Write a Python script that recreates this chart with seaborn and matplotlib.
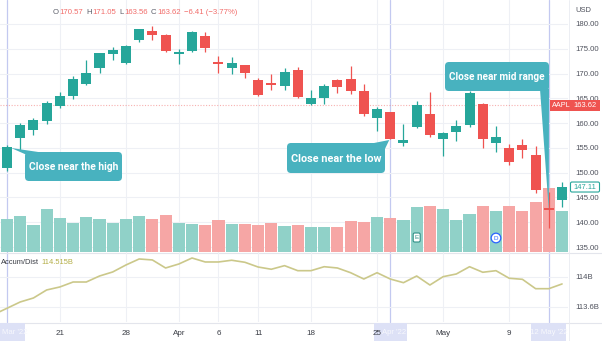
import numpy as np
import pandas as pd
import matplotlib
matplotlib.use("Agg")
import matplotlib.pyplot as plt
from matplotlib import font_manager
from matplotlib.patches import FancyBboxPatch, Polygon, Circle, Rectangle
import seaborn as sns

# ---------------- data (AAPL daily) ----------------
dates = ["2022-03-14", "2022-03-15", "2022-03-16", "2022-03-17", "2022-03-18",
         "2022-03-21", "2022-03-22", "2022-03-23", "2022-03-24", "2022-03-25",
         "2022-03-28", "2022-03-29", "2022-03-30", "2022-03-31", "2022-04-01",
         "2022-04-04", "2022-04-05", "2022-04-06", "2022-04-07", "2022-04-08",
         "2022-04-11", "2022-04-12", "2022-04-13", "2022-04-14", "2022-04-18",
         "2022-04-19", "2022-04-20", "2022-04-21", "2022-04-22", "2022-04-25",
         "2022-04-26", "2022-04-27", "2022-04-28", "2022-04-29", "2022-05-02",
         "2022-05-03", "2022-05-04", "2022-05-05", "2022-05-06", "2022-05-09",
         "2022-05-10", "2022-05-11", "2022-05-12", "2022-05-13"]
open_ = [151.45, 150.90, 157.05, 158.61, 160.51, 163.51, 165.51, 167.99, 171.06, 173.88,
         172.17, 176.69, 178.55, 177.84, 174.03, 174.57, 177.50, 172.36, 171.16, 171.78,
         168.71, 168.02, 167.39, 170.62, 163.92, 165.02, 168.76, 168.91, 166.46, 161.12,
         162.25, 155.91, 159.25, 161.84, 156.71, 158.15, 159.67, 163.85, 156.01, 154.93,
         155.52, 153.50, 142.77, 144.59]
high = [154.12, 155.57, 160.00, 161.00, 164.48, 166.35, 169.42, 172.64, 174.14, 175.28,
        175.73, 179.01, 179.61, 178.03, 174.88, 178.49, 178.30, 173.63, 173.36, 171.78,
        169.03, 169.87, 171.04, 171.27, 166.60, 167.82, 168.88, 171.53, 167.87, 163.17,
        162.34, 159.79, 164.52, 166.20, 158.23, 160.71, 166.48, 164.08, 159.44, 155.83,
        156.74, 155.45, 146.20, 148.10]
low = [150.10, 150.38, 154.46, 157.63, 159.76, 163.01, 164.91, 167.65, 170.21, 172.75,
       172.00, 176.34, 176.70, 174.40, 171.94, 174.44, 174.42, 170.13, 169.85, 169.20,
       165.50, 166.64, 166.77, 165.04, 163.57, 163.91, 166.10, 165.91, 161.50, 158.46,
       156.72, 155.38, 158.93, 157.25, 153.27, 156.32, 159.26, 154.95, 154.18, 151.49,
       152.93, 145.81, 138.80, 143.11]
close = [150.62, 155.09, 159.59, 160.62, 163.98, 165.38, 168.82, 170.21, 174.07, 174.72,
         175.60, 178.96, 177.77, 174.61, 174.31, 178.44, 175.06, 171.83, 172.14, 170.09,
         165.75, 167.66, 170.40, 165.29, 165.07, 167.40, 167.23, 166.42, 161.79, 162.88,
         156.80, 156.57, 163.64, 157.65, 157.96, 159.48, 166.02, 156.77, 157.28, 152.06,
         154.51, 146.50, 142.56, 147.11]
volume_m = [109, 94, 102, 77, 122, 97, 82, 99, 94, 82,
            94, 102, 94, 105, 82, 80, 77, 91, 80, 80,
            77, 82, 74, 77, 71, 71, 71, 88, 85, 99,
            97, 91, 128, 131, 122, 91, 108, 131, 116, 131,
            116, 142, 182, 116]
accum_dist_b = [113.50, 113.583, 113.667, 113.72, 113.827, 113.867, 113.933, 113.933, 114.013, 114.067,
                114.16, 114.24, 114.227, 114.12, 114.173, 114.253, 114.20, 114.20, 114.223, 114.196,
                114.133, 114.103, 114.151, 114.084, 114.084, 114.137, 114.12, 114.057, 113.973, 114.057,
                113.973, 113.924, 114.013, 113.893, 114.004, 114.04, 114.137, 114.063, 114.084, 113.983,
                113.969, 113.844, 113.844, 113.907]

tick_dates = ["2022-03-21", "2022-03-28", "2022-04-01", "2022-04-06", "2022-04-11",
              "2022-04-18", "2022-04-25", "2022-05-02", "2022-05-09"]
tick_labels = ["21", "28", "Apr", "6", "11", "18", "25", "May", "9"]
price_ticks = [135, 140, 145, 150, 155, 160, 165, 170, 175, 180]
ad_ticks = [113.6, 114.0]
ad_tick_labels = ["113.6B", "114B"]
crosshair_dates = ["2022-03-15", "2022-04-26", "2022-05-12"]
crosshair_labels = ["Mar '22", "Apr '22", "12 May '22"]
callout_texts = ["Close near the high", "Close near the low", "Close near mid range"]
callout_dates = ["2022-03-15", "2022-04-26", "2022-05-12"]
last_price = 163.62
last_close_label = "147.11"
header_parts = [("O", "170.57"), ("H", "171.05"), ("L", "163.56"), ("C", "163.62"), ("", "\u22126.41 (\u22123.77%)")]
ad_value_label = "114.515B"
earnings_date = "2022-04-28"
dividend_date = "2022-05-06"

# ---------------- style ----------------
GREEN = "#26a69a"
RED = "#ef5350"
VOL_GREEN = "#90d1c8"
VOL_RED = "#f6a6a5"
GRID = "#eef0f5"
TXT = "#50535e"
CALLOUT = "#48b2bf"
CROSS = "#c3c9f0"

sns.set_theme(style="white")
plt.rcParams["font.family"] = ["Liberation Sans", "DejaVu Sans"]

avail = {f.name for f in font_manager.fontManager.ttflist}
callout_family = [f for f in ["Roboto", "Liberation Sans", "DejaVu Sans"] if f in avail] or ["DejaVu Sans"]

df = pd.DataFrame({"date": pd.to_datetime(dates), "open": open_, "high": high,
                   "low": low, "close": close, "volume": volume_m, "ad": accum_dist_b})
df["i"] = np.arange(len(df))
pos = {d: i for i, d in enumerate(dates)}
up = df["close"] >= df["open"]

W, H = 602, 341
fig = plt.figure(figsize=(W / 100, H / 100), dpi=100)
fig.patch.set_facecolor("white")


def fy(y):
    return 1 - y / H


right_px = 568
# background overlay (pixel coords) drawn below the panes
bg = fig.add_axes([0, 0, 1, 1], zorder=-5)
bg.set_xlim(0, W)
bg.set_ylim(H, 0)
bg.axis("off")

axv = fig.add_axes([0, fy(252), right_px / W, 252 / H], zorder=1)
ax = fig.add_axes([0, fy(252), right_px / W, 252 / H], sharex=axv, zorder=2)
ax2 = fig.add_axes([0, fy(322), right_px / W, 70 / H], sharex=axv, zorder=1)
for a in (ax, axv, ax2):
    a.patch.set_visible(False)

xlim = (0.47, len(df) - 0.55)
axv.set_xlim(*xlim)

# volume
axv.bar(df["i"], df["volume"], width=0.92, color=np.where(up, VOL_GREEN, VOL_RED), linewidth=0, zorder=2)
axv.set_ylim(0, 716)
axv.set_yticks([])

# price pane
ax.set_ylim(134.0, 184.84)
for t in price_ticks:
    axv.axhline((t - 134.0) / (184.84 - 134.0) * 716, color=GRID, lw=0.8, zorder=0)
for d in tick_dates:
    axv.axvline(pos[d], color=GRID, lw=0.8, zorder=0)
    ax2.axvline(pos[d], color=GRID, lw=0.8, zorder=0)
ax.axhline(last_price, color=RED, lw=0.8, ls=(0, (1, 1.5)), alpha=0.45, zorder=1)

cols = np.where(up, GREEN, RED)
ax.vlines(df["i"], df["low"], df["high"], colors=cols, lw=0.9, zorder=3)
body_low = np.minimum(df["open"], df["close"])
body_h = np.maximum(np.abs(df["close"] - df["open"]), 0.22)
ax.bar(df["i"], body_h, bottom=body_low, width=0.76, color=cols, linewidth=0, zorder=4)

ax.yaxis.tick_right()
ax.set_yticks(price_ticks)
ax.set_yticklabels([f"{t:.2f}" for t in price_ticks])
ax.tick_params(axis="y", length=0, pad=5, labelsize=5.6, labelcolor=TXT)
ax.tick_params(axis="x", bottom=False, labelbottom=False)
axv.tick_params(axis="x", bottom=False, labelbottom=False)
for a in (ax, axv):
    for s in a.spines.values():
        s.set_visible(False)

# A/D pane
sns.lineplot(data=df, x="i", y="ad", ax=ax2, color="#cbc88a", lw=1.2, zorder=3)
ax2.set_ylim(113.4, 114.333)
for t in ad_ticks:
    ax2.axhline(t, color=GRID, lw=0.8, zorder=0)
ax2.yaxis.tick_right()
ax2.set_yticks(ad_ticks)
ax2.set_yticklabels(ad_tick_labels)
ax2.set_xticks([pos[d] for d in tick_dates])
ax2.set_xticklabels(tick_labels)
ax2.tick_params(axis="y", length=0, pad=5, labelsize=5.6, labelcolor=TXT)
ax2.tick_params(axis="x", length=0, pad=5.5, labelsize=5.8, labelcolor="#3a3d45")
ax2.set_xlabel("")
ax2.set_ylabel("")
for s in ax2.spines.values():
    s.set_visible(False)
ax2.set_xlim(*xlim)

# foreground overlay in pixel coordinates
ov = fig.add_axes([0, 0, 1, 1], zorder=10)
ov.set_xlim(0, W)
ov.set_ylim(H, 0)
ov.axis("off")
ov.patch.set_visible(False)


def to_px(a, x, y):
    dx, dy = a.transData.transform((x, y))
    return dx, H - dy


fig.canvas.draw()
renderer = fig.canvas.get_renderer()


def text_width(t):
    return t.get_window_extent(renderer).width


# pane separators
bg.plot([0, W], [252.5, 252.5], color="#e3e5ec", lw=0.8)
bg.plot([0, W], [322.5, 322.5], color="#e3e5ec", lw=0.8)
bg.plot([right_px + 0.5, right_px + 0.5], [0, 341], color="#e9ebf1", lw=0.6)

# crosshair verticals and date labels (behind the tick labels)
for k, (d, lab) in enumerate(zip(crosshair_dates, crosshair_labels)):
    px, _ = to_px(ax, pos[d], 150)
    bg.plot([px, px], [0, 322], color=CROSS, lw=0.9, zorder=1)
    if k == 0:
        x0, w0, tx, ha = 0, 25, 1.5, "left"
    elif k == 1:
        x0, w0, tx, ha = px - 16.5, 33, px + 16, "right"
    else:
        x0, w0, tx, ha = px - 17.5, 35, px, "center"
    bg.add_patch(Rectangle((x0, 322.5), w0, 18.5, color="#dde1f6", lw=0, zorder=2))
    bg.text(tx, 332, lab, ha=ha, va="center", fontsize=5.6, color="#f7f8fd", zorder=3)

# header (sequential layout)
cursor = 53
for k, v in header_parts:
    if k:
        t = ov.text(cursor, 12, k, ha="left", va="center", fontsize=5.6, color="#5d606b")
        cursor += text_width(t) + 0.5
    t = ov.text(cursor, 12, v, ha="left", va="center", fontsize=5.6, color=RED, alpha=0.85)
    cursor += text_width(t) + 3.2
ov.text(575, 11, "USD", ha="left", va="center", fontsize=5.4, color=TXT)

# last-price label
_, ly = to_px(ax, 0, last_price)
ov.add_patch(Rectangle((550, ly - 5.5), 50, 11, color=RED, lw=0))
ov.text(552, ly, "AAPL", ha="left", va="center", fontsize=5.2, color="white")
ov.text(585, ly, f"{last_price:.2f}", ha="center", va="center", fontsize=5.4, color="white")
_, cy = to_px(ax, 0, close[-1])
ov.add_patch(FancyBboxPatch((570.5, cy - 5), 29, 10, boxstyle="round,pad=0,rounding_size=1.5",
                            fc="white", ec=GREEN, lw=0.8))
ov.text(585, cy, last_close_label, ha="center", va="center", fontsize=5.4, color=GREEN)

# accum/dist legend
t = ov.text(0.5, 263, "Accum/Dist", ha="left", va="center", fontsize=5.4, color="#3a3d45")
ov.text(0.5 + text_width(t) + 3, 263, ad_value_label, ha="left", va="center", fontsize=5.4, color="#b3ad45")

# earnings / dividend markers
ex, _ = to_px(ax, pos[earnings_date], 150)
ov.add_patch(FancyBboxPatch((ex - 3.5, 233), 7, 9, boxstyle="round,pad=0,rounding_size=1.5",
                            fc="white", ec="#2f8f86", lw=0.8, zorder=5))
ov.text(ex, 237.7, "E", ha="center", va="center", fontsize=4.5, color="#2f8f86", zorder=6)
dx_, _ = to_px(ax, pos[dividend_date], 150)
ov.add_patch(Circle((dx_, 238), 4.8, fc="white", ec="#2962ff", lw=0.9, zorder=5))
ov.text(dx_, 238.3, "D", ha="center", va="center", fontsize=4.5, color="#2962ff", zorder=6)

# callouts
boxes = [(25, 152, 97, 29), (287, 143, 98, 30), (445, 62, 104, 29)]
for k, (txt, d, (bx, by, bw, bh)) in enumerate(zip(callout_texts, callout_dates, boxes)):
    tx, ty = to_px(ax, pos[d], close[pos[d]])
    if k == 0:
        tail = [(tx + 4, ty + 0.5), (bx + 2, by + 3), (bx + 20, by + 1)]
    elif k == 1:
        tail = [(bx + bw - 16, by + 1), (bx + bw - 1, by + 8), (tx - 1, ty + 1)]
    else:
        tail = [(bx + bw - 9, by + bh - 2), (bx + bw, by + bh - 2), (tx, ty + 1)]
    ov.add_patch(Polygon(tail, closed=True, fc=CALLOUT, ec="none", zorder=7))
    ov.add_patch(FancyBboxPatch((bx, by), bw, bh, boxstyle="round,pad=0,rounding_size=4",
                                fc=CALLOUT, ec="none", zorder=7))
    size = 9.0
    t = ov.text(bx + bw / 2, by + bh / 2 + 0.5, txt, ha="center", va="center", family=callout_family,
                weight="bold", fontsize=size, color="white", zorder=8)
    while text_width(t) > bw - 7 and size > 4:
        size -= 0.2
        t.set_fontsize(size)

fig.savefig("out.png", dpi=100, facecolor="white")
